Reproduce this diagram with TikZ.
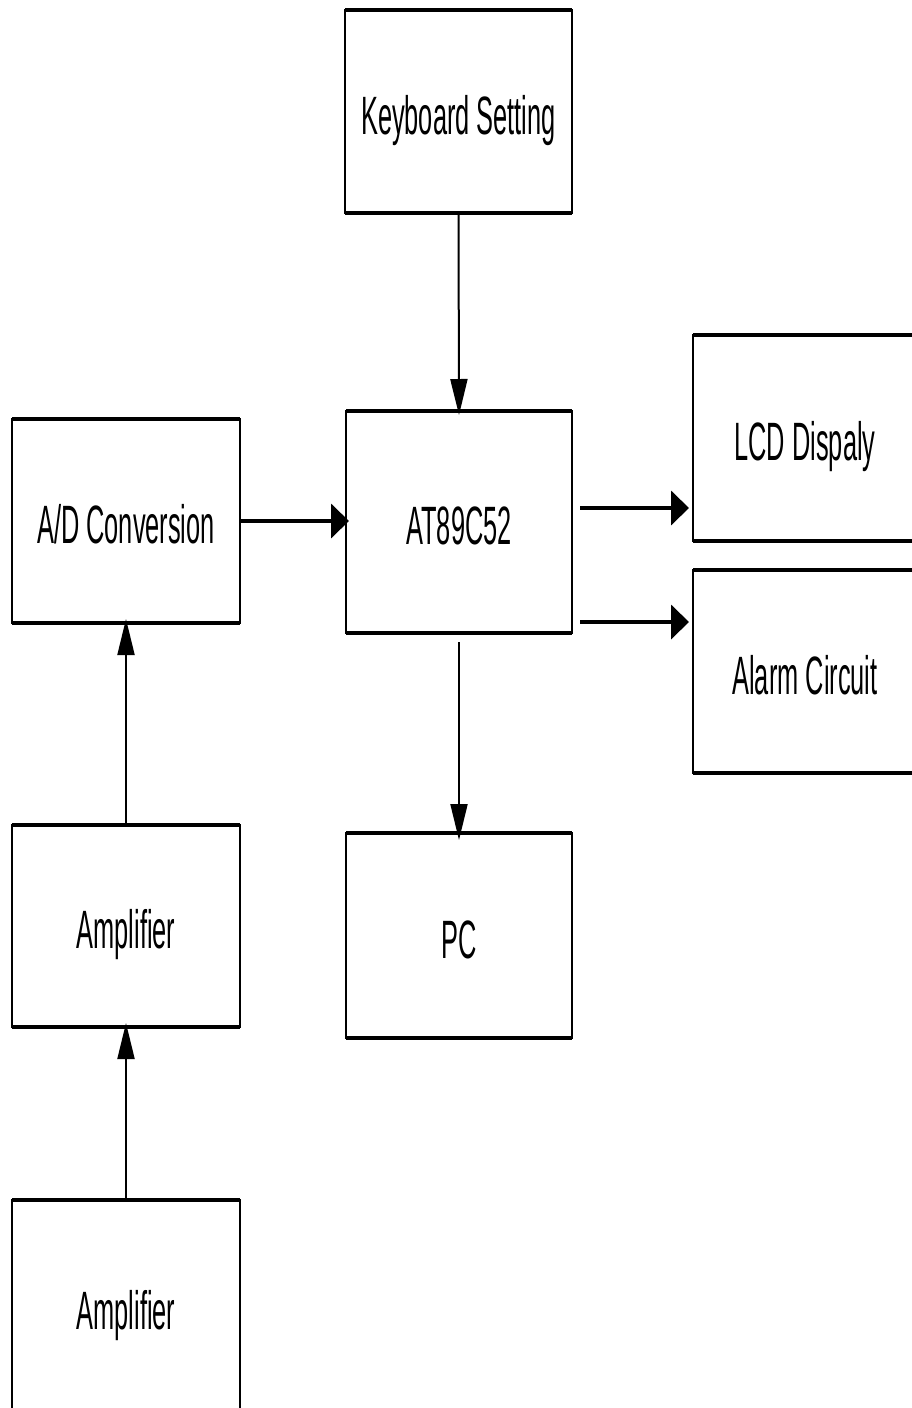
\documentclass[tikz,border=0pt]{standalone}
\usepackage{fontspec}
\newfontfamily\blockfont[FakeStretch=0.47]{Liberation Sans}
\usetikzlibrary{arrows.meta}
\tikzset{
    block/.style={draw, line width=2pt, outer sep=0pt, inner sep=0pt,
        text height=45pt, text depth=0pt,
        font=\blockfont\fontsize{54}{60}\selectfont},
    varrow/.style={line width=2pt, -{Triangle[length=36pt,width=17pt]}},
    harrow/.style={line width=4pt, -{Triangle[length=18pt,width=34pt]}}
}
\begin{document}
\begin{tikzpicture}[x=1pt, y=-1pt]
    \useasboundingbox (0,0) rectangle (912,1408);

    % Blocks
    \node[block, minimum width=227pt, minimum height=203pt] (key) at (458.5,111.5) {Keyboard Setting};
    \node[block, minimum width=226pt, minimum height=222pt] (at) at (459,522) {AT89C52};
    \node[block, minimum width=228pt, minimum height=204pt] (ad) at (126,521) {A/D Conversion};
    \node[block, minimum width=224pt, minimum height=206pt] (lcd) at (805,438) {LCD Dispaly};
    \node[block, minimum width=224pt, minimum height=203pt] (alarm) at (805,671.5) {Alarm Circuit};
    \node[block, minimum width=226pt, minimum height=205pt] (pc) at (459,935.5) {PC};
    \node[block, minimum width=228pt, minimum height=202pt] (amp1) at (126,926) {Amplifier};
    \node[block, minimum width=228pt, minimum height=214pt] (amp2) at (126,1307) {Amplifier};

    % Heavier top and bottom edges
    \foreach \n in {key,at,ad,lcd,alarm,pc,amp1,amp2} {
        \draw[line width=4pt] (\n.north west) -- (\n.north east);
        \draw[line width=4pt] (\n.south west) -- (\n.south east);
    }

    % Tails of the output arrows
    \coordinate (lcdtail) at (580,508);
    \coordinate (alarmtail) at (580,622);

    % Connections
    \draw[varrow, shorten >=-4pt] (key.south) -- (at.north);
    \draw[harrow, shorten >=-3pt] (ad.east) -- (ad.east -| at.west);
    \draw[harrow, shorten >=4pt] (lcdtail) -- (lcdtail -| lcd.west);
    \draw[harrow, shorten >=4pt] (alarmtail) -- (alarmtail -| alarm.west);
    \draw[varrow, shorten <=9pt, shorten >=-7pt] (at.south) -- (pc.north);
    \draw[varrow, shorten >=-4pt] (amp1.north) -- (ad.south);
    \draw[varrow, shorten >=-4pt] (amp2.north) -- (amp1.south);
\end{tikzpicture}
\end{document}
